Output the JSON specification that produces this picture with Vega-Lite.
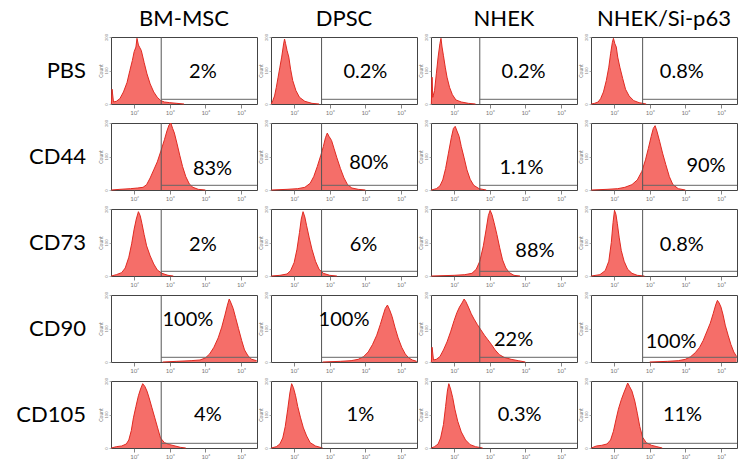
{
  "$schema": "https://vega.github.io/schema/vega-lite/v6.json",
  "background": "white",
  "padding": {"left": 16, "top": 8, "right": 0, "bottom": 0},
  "data": {"values": [
    {"r":"PBS","c":"BM-MSC","gate":2.76,"pct":"2%","lx":3.93,"ly":48,
     "x":[1.36,1.38,1.42,1.5,1.6,1.7,1.8,1.88,1.95,2.0,2.05,2.08,2.12,2.16,2.2,2.28,2.36,2.45,2.55,2.65,2.75,2.85,3.0,3.2,3.4],
     "y":[0,22,3,4,8,18,32,50,65,78,85,98,88,84,80,62,45,30,18,10,5,3,2,1,0]},
    {"r":"PBS","c":"DPSC","gate":2.77,"pct":"0.2%","lx":4.0,"ly":48,
     "x":[1.36,1.4,1.45,1.5,1.55,1.6,1.65,1.7,1.73,1.76,1.8,1.85,1.9,1.96,2.05,2.15,2.3,2.5,2.7],
     "y":[0,5,12,25,40,55,70,88,97,90,80,70,52,35,20,10,4,1,0]},
    {"r":"PBS","c":"NHEK","gate":2.72,"pct":"0.2%","lx":3.95,"ly":48,
     "x":[1.36,1.38,1.4,1.45,1.5,1.55,1.6,1.63,1.66,1.7,1.75,1.8,1.87,1.95,2.05,2.2,2.4,2.6],
     "y":[0,40,10,20,45,70,90,98,85,72,55,40,25,14,6,3,1,0]},
    {"r":"PBS","c":"NHEK/Si-p63","gate":2.8,"pct":"0.8%","lx":3.9,"ly":48,
     "x":[1.36,1.45,1.55,1.62,1.7,1.78,1.85,1.9,1.95,1.98,2.02,2.06,2.1,2.16,2.24,2.32,2.42,2.55,2.7,2.9],
     "y":[0,1,3,8,18,35,55,75,92,98,90,85,70,55,38,22,12,5,2,0]},
    {"r":"CD44","c":"BM-MSC","gate":2.76,"pct":"83%","lx":4.2,"ly":32,
     "x":[1.36,1.6,1.9,2.1,2.25,2.35,2.45,2.55,2.65,2.75,2.85,2.92,2.98,3.03,3.08,3.13,3.2,3.28,3.36,3.45,3.55,3.65,3.8,4.0],
     "y":[0,1,2,3,4,8,18,30,42,58,75,88,97,100,92,85,70,52,35,20,9,4,1,0]},
    {"r":"CD44","c":"DPSC","gate":2.77,"pct":"80%","lx":4.1,"ly":40,
     "x":[1.36,1.8,2.1,2.3,2.45,2.55,2.65,2.75,2.82,2.88,2.93,2.98,3.05,3.12,3.2,3.3,3.4,3.5,3.62,3.8,4.0],
     "y":[0,1,2,4,10,20,35,52,65,78,85,80,74,62,48,32,18,8,3,1,0]},
    {"r":"CD44","c":"NHEK","gate":2.72,"pct":"1.1%","lx":3.89,"ly":33,
     "x":[1.36,1.5,1.6,1.68,1.76,1.84,1.92,1.98,2.03,2.08,2.14,2.2,2.28,2.36,2.45,2.55,2.7,2.9],
     "y":[0,2,6,15,32,55,78,92,95,88,80,65,48,30,16,7,2,0]},
    {"r":"CD44","c":"NHEK/Si-p63","gate":2.8,"pct":"90%","lx":4.58,"ly":36,
     "x":[1.36,1.8,2.1,2.3,2.5,2.65,2.78,2.88,2.96,3.04,3.1,3.15,3.2,3.28,3.36,3.45,3.55,3.65,3.8,4.0],
     "y":[0,1,2,4,8,15,28,45,62,80,92,96,88,72,55,38,20,8,2,0]},
    {"r":"CD73","c":"BM-MSC","gate":2.76,"pct":"2%","lx":3.93,"ly":46,
     "x":[1.36,1.5,1.65,1.75,1.85,1.93,2.0,2.06,2.12,2.17,2.22,2.28,2.35,2.45,2.55,2.65,2.78,2.95,3.1],
     "y":[0,2,5,12,28,48,70,85,96,90,78,62,45,30,18,9,4,1,0]},
    {"r":"CD73","c":"DPSC","gate":2.77,"pct":"6%","lx":3.95,"ly":46,
     "x":[1.36,1.6,1.8,1.9,2.0,2.08,2.15,2.2,2.25,2.3,2.35,2.42,2.5,2.6,2.7,2.82,3.0,3.2],
     "y":[0,1,3,8,20,40,65,85,96,88,75,58,40,22,10,4,1,0]},
    {"r":"CD73","c":"NHEK","gate":2.72,"pct":"88%","lx":4.27,"ly":38,
     "x":[1.36,2.0,2.3,2.5,2.62,2.72,2.82,2.9,2.96,3.01,3.06,3.12,3.2,3.28,3.36,3.45,3.55,3.68,3.85],
     "y":[0,1,2,4,10,22,45,70,90,98,92,80,62,42,24,12,5,1,0]},
    {"r":"CD73","c":"NHEK/Si-p63","gate":2.8,"pct":"0.8%","lx":3.9,"ly":46,
     "x":[1.36,1.6,1.75,1.85,1.92,1.97,2.01,2.05,2.09,2.14,2.2,2.28,2.38,2.5,2.65,2.85],
     "y":[0,2,8,22,50,80,98,92,78,58,38,22,10,4,1,0]},
    {"r":"CD90","c":"BM-MSC","gate":2.76,"pct":"100%","lx":3.51,"ly":62,
     "x":[2.8,3.2,3.6,3.85,4.0,4.12,4.24,4.36,4.46,4.55,4.62,4.67,4.72,4.78,4.85,4.93,5.02,5.1,5.2,5.3,5.44],
     "y":[0,1,2,3,6,12,22,36,52,70,85,94,88,80,66,50,32,18,9,4,2]},
    {"r":"CD90","c":"DPSC","gate":2.77,"pct":"100%","lx":3.4,"ly":62,
     "x":[2.8,3.3,3.6,3.8,3.95,4.08,4.2,4.32,4.42,4.5,4.56,4.62,4.68,4.75,4.83,4.92,5.02,5.12,5.22,5.32,5.44],
     "y":[0,1,2,4,8,15,26,40,56,70,80,85,78,68,52,36,22,12,6,3,1]},
    {"r":"CD90","c":"NHEK","gate":2.72,"pct":"22%","lx":3.67,"ly":33,
     "x":[1.36,1.38,1.42,1.5,1.6,1.7,1.8,1.9,2.0,2.08,2.15,2.22,2.28,2.33,2.4,2.48,2.56,2.65,2.75,2.85,2.95,3.05,3.15,3.27,3.4,3.6,3.8,4.0],
     "y":[0,22,3,4,8,18,30,45,62,74,82,88,94,90,82,72,64,56,48,40,33,26,18,11,7,4,2,0]},
    {"r":"CD90","c":"NHEK/Si-p63","gate":2.8,"pct":"100%","lx":3.6,"ly":30,
     "x":[3.0,3.5,3.8,4.0,4.15,4.28,4.4,4.5,4.6,4.7,4.78,4.85,4.9,4.95,5.0,5.06,5.12,5.2,5.28,5.36,5.44],
     "y":[0,1,2,4,8,14,22,32,45,58,72,85,92,88,82,70,55,40,26,15,8]},
    {"r":"CD105","c":"BM-MSC","gate":2.76,"pct":"4%","lx":4.07,"ly":50,
     "x":[1.36,1.5,1.65,1.78,1.85,1.92,1.98,2.05,2.12,2.18,2.24,2.3,2.36,2.42,2.5,2.58,2.66,2.74,2.85,3.0,3.15,3.3,3.45],
     "y":[0,2,3,6,12,26,45,62,78,88,96,92,85,75,60,45,30,15,8,5,3,1,0]},
    {"r":"CD105","c":"DPSC","gate":2.77,"pct":"1%","lx":3.86,"ly":50,
     "x":[1.36,1.5,1.6,1.68,1.75,1.82,1.88,1.93,1.98,2.04,2.1,2.18,2.26,2.35,2.45,2.6,2.8],
     "y":[0,2,6,15,32,58,82,96,90,78,62,45,30,18,8,3,0]},
    {"r":"CD105","c":"NHEK","gate":2.72,"pct":"0.3%","lx":3.84,"ly":50,
     "x":[1.36,1.45,1.55,1.62,1.7,1.76,1.81,1.85,1.9,1.96,2.02,2.1,2.2,2.32,2.45,2.6,2.8],
     "y":[0,2,6,15,35,62,85,96,88,75,58,40,24,12,5,2,0]},
    {"r":"CD105","c":"NHEK/Si-p63","gate":2.8,"pct":"11%","lx":3.92,"ly":50,
     "x":[1.36,1.5,1.65,1.8,1.9,1.98,2.05,2.12,2.2,2.27,2.33,2.38,2.43,2.5,2.58,2.65,2.72,2.8,2.9,3.05,3.2,3.35],
     "y":[0,3,4,6,12,25,42,58,72,82,90,97,92,85,70,52,32,16,8,4,2,0]}
  ]},
  "facet": {
    "row": {"field": "r", "type": "nominal", "sort": ["PBS","CD44","CD73","CD90","CD105"],
      "header": {"title": null, "labelAngle": 0, "labelOrient": "left", "labelAlign": "left",
        "labelFontSize": 22, "labelFont": "Lato", "labelColor": "black", "labelPadding": 25}},
    "column": {"field": "c", "type": "nominal", "sort": ["BM-MSC","DPSC","NHEK","NHEK/Si-p63"],
      "header": {"title": null, "labelFontSize": 22, "labelFont": "Lato", "labelColor": "black", "labelPadding": 6}}
  },
  "spacing": {"row": 19, "column": 14},
  "bounds": "flush",
  "resolve": {"axis": {"x": "independent", "y": "independent"}},
  "spec": {
    "width": 146,
    "height": 67,
    "layer": [
      {
        "transform": [{"flatten": ["x", "y"]}],
        "mark": {"type": "area", "color": "#f4625c", "opacity": 0.92, "line": {"color": "#e02a22", "strokeWidth": 1}},
        "encoding": {
          "x": {"field": "x", "type": "quantitative", "title": null,
            "scale": {"domain": [1.35, 5.45], "nice": false, "zero": false}},
          "y": {"field": "y", "type": "quantitative", "title": "Count",
            "scale": {"domain": [0, 100], "nice": false}}
        }
      },
      {
        "mark": {"type": "rule", "color": "#555", "strokeWidth": 1},
        "encoding": {
          "x": {"field": "gate", "type": "quantitative", "title": null},
          "y": {"datum": 0, "title": "Count"},
          "y2": {"datum": 100}
        }
      },
      {
        "mark": {"type": "rule", "color": "#666", "strokeWidth": 1},
        "encoding": {
          "x": {"field": "gate", "type": "quantitative", "title": null},
          "x2": {"datum": 5.45},
          "y": {"datum": 7, "title": "Count"}
        }
      },
      {
        "mark": {"type": "text", "fontSize": 20, "font": "Lato", "color": "black"},
        "encoding": {
          "x": {"field": "lx", "type": "quantitative", "title": null},
          "y": {"field": "ly", "type": "quantitative", "title": "Count"},
          "text": {"field": "pct"}
        }
      }
    ]
  },
  "config": {
    "view": {"stroke": "#444", "strokeWidth": 1},
    "font": "Lato",
    "axisX": {"domain": false, "grid": false,
      "values": [1.48,1.6,1.7,1.78,1.85,1.9,1.95,2,2.3,2.48,2.6,2.7,2.78,2.85,2.9,2.95,3,3.3,3.48,3.6,3.7,3.78,3.85,3.9,3.95,4,4.3,4.48,4.6,4.7,4.78,4.85,4.9,4.95,5,5.3],
      "labelExpr": "datum.value == 2 ? '10²' : datum.value == 3 ? '10³' : datum.value == 4 ? '10⁴' : datum.value == 5 ? '10⁵' : ''",
      "labelFontSize": 6, "labelColor": "#777", "labelPadding": 1,
      "labelOverlap": false, "labelBound": false, "labelFlush": false,
      "tickColor": "#666", "tickWidth": 0.8,
      "tickSize": {"condition": {"test": "datum.value % 1 === 0", "value": 4}, "value": 2}},
    "axisY": {"titleFontSize": 5, "titleFontWeight": "normal", "titleColor": "#777", "titlePadding": 1,
      "domain": false, "grid": false, "values": [0,10,20,30,40,50,60,70,80,90,100],
      "labelExpr": "datum.value * 2", "labelFontSize": 4, "labelColor": "#888", "labelAngle": -90, "labelAlign": "center", "labelBaseline": "bottom",
      "labelPadding": 1, "labelOverlap": false, "tickSize": 2, "tickColor": "#777", "tickWidth": 0.6}
  }
}
